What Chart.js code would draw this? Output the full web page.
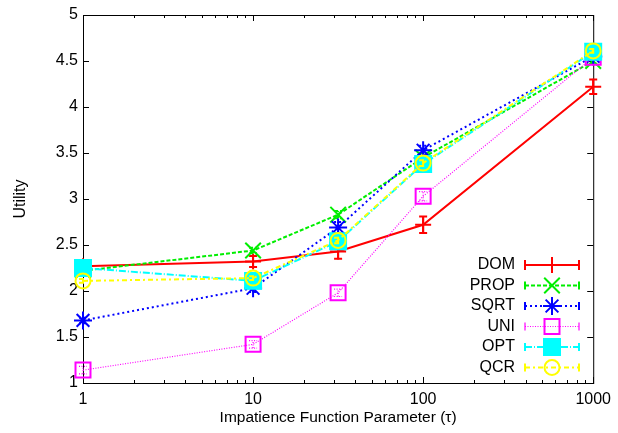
<!DOCTYPE html>
<html>
<head>
<meta charset="utf-8">
<script src="https://cdn.jsdelivr.net/npm/chart.js@4/dist/chart.umd.min.js"></script>
<style>
  html, body { margin: 0; padding: 0; background: #fff; }
  #wrap { width: 618px; height: 433px; position: relative; }
</style>
</head>
<body>
<div id="wrap"><canvas id="c" width="618" height="433"></canvas></div>
<script>
// ---- data ----
const tauValues = [1, 10, 31.62, 100, 1000];
const seriesNames = ['DOM', 'PROP', 'SQRT', 'UNI', 'OPT', 'QCR'];
const domValues  = [2.27, 2.32, 2.43, 2.72, 4.22];
const propValues = [2.22, 2.44, 2.83, 3.45, 4.50];
const sqrtValues = [1.68, 2.03, 2.69, 3.53, 4.55];
const uniValues  = [1.14, 1.42, 1.98, 3.03, 4.54];
const optValues  = [2.25, 2.11, 2.54, 3.38, 4.60];
const qcrValues  = [2.11, 2.14, 2.55, 3.39, 4.61];
const domErr  = [0.04, 0.06, 0.08, 0.09, 0.08];
const propErr = [0.03, 0.03, 0.04, 0.05, 0.03];
const sqrtErr = [0.03, 0.04, 0.06, 0.05, 0.03];
const uniErr  = [0.04, 0.04, 0.04, 0.05, 0.03];
const optErr  = [0.02, 0.02, 0.03, 0.03, 0.02];
const qcrErr  = [0.02, 0.02, 0.03, 0.03, 0.02];
const xTickValues = [1, 10, 100, 1000];
const xTickLabels = ['1', '10', '100', '1000'];
const yTickValues = [1, 1.5, 2, 2.5, 3, 3.5, 4, 4.5, 5];
const yTickLabels = ['1', '1.5', '2', '2.5', '3', '3.5', '4', '4.5', '5'];
const xTitle = 'Impatience Function Parameter (\u03c4)';
const yTitle = 'Utility';

// ---- styles ----
const FONT = 'Liberation Sans, Arial, Helvetica, sans-serif';
const styles = [
  { color: '#ff0000', dash: [],           width: 2,   point: 'cross',    radius: 8,    fill: false, cap: 5 },
  { color: '#00ee00', dash: [4, 2],       width: 2,   point: 'crossRot', radius: 11,   fill: false, cap: 4 },
  { color: '#0000ff', dash: [2, 3],       width: 2,   point: 'star',     radius: 9,    fill: false, cap: 4 },
  { color: '#ff00ff', dash: [1, 1.5],     width: 1.2, point: 'rect',     radius: 10.6, fill: false, cap: 4 },
  { color: '#00ffff', dash: [7, 2, 1, 2], width: 2,   point: 'rect',     radius: 11.3, fill: true,  cap: 4 },
  { color: '#ffff00', dash: [5, 3, 2, 3], width: 2,   point: 'circle',   radius: 7.5,  fill: false, cap: 4 }
];
const allValues = [domValues, propValues, sqrtValues, uniValues, optValues, qcrValues];
const allErrs = [domErr, propErr, sqrtErr, uniErr, optErr, qcrErr];

const datasets = seriesNames.map((name, i) => ({
  label: name,
  data: tauValues.map((t, k) => ({ x: t, y: allValues[i][k] })),
  borderColor: styles[i].color,
  backgroundColor: styles[i].fill ? styles[i].color : 'rgba(0,0,0,0)',
  borderWidth: styles[i].width,
  borderDash: styles[i].dash,
  pointStyle: styles[i].point,
  pointRadius: styles[i].radius,
  pointHoverRadius: styles[i].radius,
  pointBorderWidth: 2,
  pointBorderColor: styles[i].color,
  pointBackgroundColor: styles[i].fill ? styles[i].color : 'rgba(0,0,0,0)',
  tension: 0,
  fill: false,
  clip: false,
  order: seriesNames.length - i
}));

function drawMarker(ctx, st, x, y) {
  const r = st.radius;
  ctx.save();
  ctx.setLineDash([]);
  ctx.lineWidth = 2;
  ctx.strokeStyle = st.color;
  ctx.fillStyle = st.color;
  ctx.beginPath();
  if (st.point === 'cross') {
    ctx.moveTo(x - r, y); ctx.lineTo(x + r, y);
    ctx.moveTo(x, y - r); ctx.lineTo(x, y + r);
    ctx.stroke();
  } else if (st.point === 'crossRot') {
    const d = r * Math.SQRT1_2;
    ctx.moveTo(x - d, y - d); ctx.lineTo(x + d, y + d);
    ctx.moveTo(x - d, y + d); ctx.lineTo(x + d, y - d);
    ctx.stroke();
  } else if (st.point === 'star') {
    const d = r * Math.SQRT1_2;
    ctx.moveTo(x - r, y); ctx.lineTo(x + r, y);
    ctx.moveTo(x, y - r); ctx.lineTo(x, y + r);
    ctx.moveTo(x - d, y - d); ctx.lineTo(x + d, y + d);
    ctx.moveTo(x - d, y + d); ctx.lineTo(x + d, y - d);
    ctx.stroke();
  } else if (st.point === 'rect') {
    const s = r * Math.SQRT1_2;
    ctx.rect(x - s, y - s, 2 * s, 2 * s);
    if (st.fill) ctx.fill();
    ctx.stroke();
  } else if (st.point === 'circle') {
    ctx.arc(x, y, r, 0, Math.PI * 2);
    ctx.stroke();
  }
  ctx.restore();
}

const framePlugin = {
  id: 'frame',
  beforeDatasetsDraw(chart) {
    const { ctx, chartArea: a, scales } = chart;
    ctx.save();
    ctx.strokeStyle = '#000';
    ctx.lineWidth = 1;
    ctx.setLineDash([]);
    ctx.strokeRect(a.left + 0.5, a.top + 0.5, a.right - a.left, a.bottom - a.top);
    ctx.beginPath();
    yTickValues.forEach(v => {
      const py = Math.round(scales.y.getPixelForValue(v)) + 0.5;
      ctx.moveTo(a.left, py); ctx.lineTo(a.left + 6, py);
      ctx.moveTo(a.right, py); ctx.lineTo(a.right - 6, py);
    });
    for (let dec = 1; dec <= 1000; dec *= 10) {
      for (let m = 1; m <= 9; m++) {
        const v = dec * m;
        if (v > 1000) break;
        const px = Math.round(scales.x.getPixelForValue(v)) + 0.5;
        const len = m === 1 ? 6 : 3;
        ctx.moveTo(px, a.bottom); ctx.lineTo(px, a.bottom - len);
        ctx.moveTo(px, a.top); ctx.lineTo(px, a.top + len);
      }
    }
    ctx.stroke();
    ctx.restore();
  },
  beforeDatasetDraw(chart, args) {
    const i = args.index;
    const st = styles[i];
    const { ctx, scales } = chart;
    ctx.save();
    ctx.strokeStyle = st.color;
    ctx.lineWidth = st.width;
    ctx.setLineDash(st.dash);
    ctx.beginPath();
    tauValues.forEach((t, k) => {
      const px = scales.x.getPixelForValue(t);
      const lo = scales.y.getPixelForValue(allValues[i][k] - allErrs[i][k]);
      const hi = scales.y.getPixelForValue(allValues[i][k] + allErrs[i][k]);
      ctx.moveTo(px, lo); ctx.lineTo(px, hi);
      ctx.moveTo(px - 4, lo); ctx.lineTo(px + 4, lo);
      ctx.moveTo(px - 4, hi); ctx.lineTo(px + 4, hi);
    });
    ctx.stroke();
    ctx.restore();
  },
  afterDraw(chart) {
    const { ctx } = chart;
    ctx.save();
    seriesNames.forEach((name, i) => {
      const st = styles[i];
      const y = 265 + 20.5 * i;
      ctx.fillStyle = '#000';
      ctx.font = '16px ' + FONT;
      ctx.textAlign = 'right';
      ctx.textBaseline = 'middle';
      ctx.fillText(name, 515, y);
      ctx.strokeStyle = st.color;
      ctx.lineWidth = st.width;
      ctx.setLineDash(st.dash);
      ctx.beginPath();
      ctx.moveTo(525, y); ctx.lineTo(579, y);
      ctx.stroke();
      ctx.setLineDash([]);
      ctx.beginPath();
      ctx.moveTo(525, y - st.cap); ctx.lineTo(525, y + st.cap);
      ctx.moveTo(579, y - st.cap); ctx.lineTo(579, y + st.cap);
      ctx.stroke();
      drawMarker(ctx, st, 552, y);
    });
    ctx.restore();
  }
};

new Chart(document.getElementById('c'), {
  type: 'line',
  data: { datasets },
  options: {
    responsive: false,
    animation: false,
    devicePixelRatio: 1,
    layout: { padding: { top: 15, right: 20, left: 0, bottom: 0 } },
    plugins: { legend: { display: false }, tooltip: { enabled: false } },
    elements: { line: { borderJoinStyle: 'miter' } },
    scales: {
      x: {
        type: 'logarithmic',
        min: 1, max: 1000,
        afterBuildTicks: s => { s.ticks = xTickValues.map(v => ({ value: v })); },
        afterFit: s => { s.height = 50; },
        grid: { display: false, drawTicks: false },
        border: { display: false },
        ticks: {
          autoSkip: false, maxRotation: 0, padding: 7,
          color: '#000', font: { family: FONT, size: 16 },
          callback: v => { const k = xTickValues.indexOf(v); return k >= 0 ? xTickLabels[k] : ''; }
        },
        title: { display: true, text: xTitle, color: '#000', font: { family: FONT, size: 15.5 }, padding: { top: 0, bottom: 6 } }
      },
      y: {
        type: 'linear',
        min: 1, max: 5,
        afterBuildTicks: s => { s.ticks = yTickValues.map(v => ({ value: v })); },
        afterFit: s => { s.width = 83; },
        grid: { display: false, drawTicks: false },
        border: { display: false },
        ticks: {
          autoSkip: false, padding: 5,
          color: '#000', font: { family: FONT, size: 16 },
          callback: v => { const k = yTickValues.indexOf(v); return k >= 0 ? yTickLabels[k] : ''; }
        },
        title: { display: true, text: yTitle, color: '#000', font: { family: FONT, size: 16 }, padding: { top: 11, bottom: 0 } }
      }
    }
  },
  plugins: [framePlugin]
});
</script>
</body>
</html>
